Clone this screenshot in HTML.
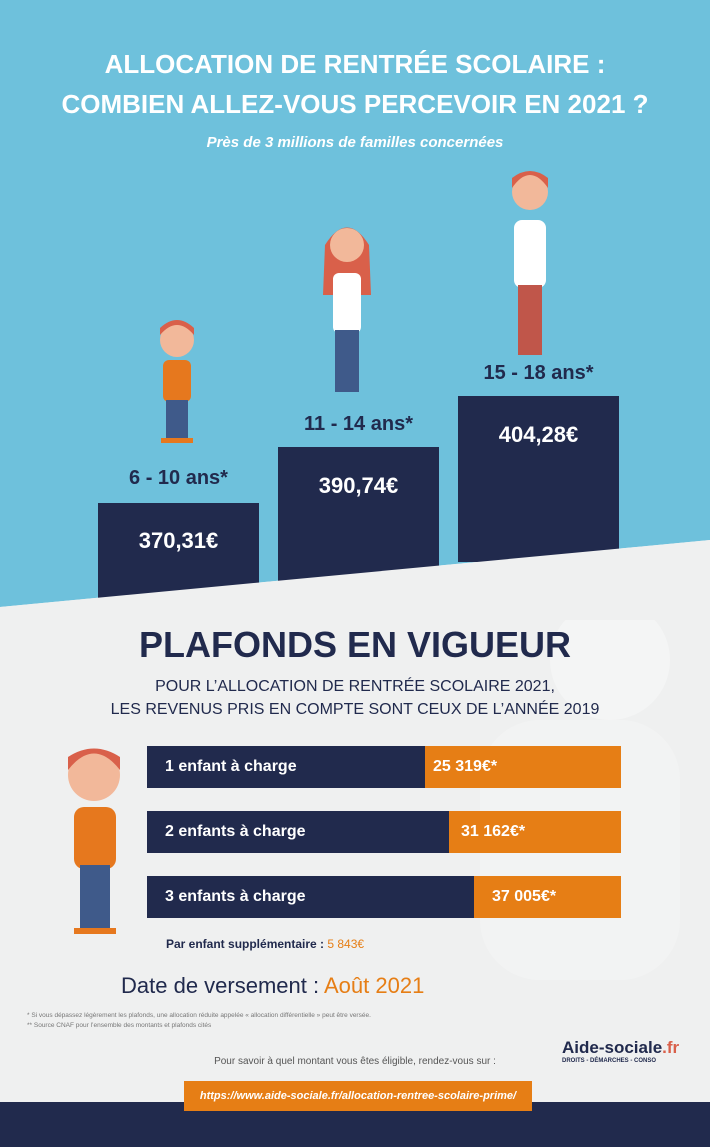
<!DOCTYPE html>
<html><head><meta charset="utf-8"><style>
body{margin:0;width:710px;height:1147px;position:relative;overflow:hidden;font-family:"Liberation Sans",sans-serif;background:#eff0f0}
.a{position:absolute}
.c{text-align:center;left:0;width:710px}
.bar{position:absolute;background:#212a4d}
.val{color:#fff;font-weight:bold;font-size:22px;text-align:center;position:absolute}
.age{color:#212a4d;font-weight:bold;font-size:20px;position:absolute;text-align:center}
.row{position:absolute;left:147px;width:474px;height:42px;background:#212a4d;color:#fff;font-size:16px;font-weight:bold}
.row span{position:absolute;top:12px}
.row .o{position:absolute;right:0;top:0;height:42px;background:#e67e15}
</style></head><body>
<svg class="a" style="left:0;top:0" width="710" height="620">
<polygon points="0,0 710,0 710,540 0,607" fill="#6ec1dc"/>
</svg>
<svg class="a" style="left:380px;top:560px" width="330" height="480" opacity="0.35">
<circle cx="230" cy="100" r="60" fill="#fff"/><rect x="100" y="160" width="200" height="260" rx="60" fill="#fafafa"/>
</svg>
<div class="a c" style="top:44px;color:#fff;font-weight:bold;font-size:26px;line-height:40px">ALLOCATION DE RENTRÉE SCOLAIRE :<br>COMBIEN ALLEZ-VOUS PERCEVOIR EN 2021 ?</div>
<div class="a c" style="top:134px;color:#fff;font-weight:bold;font-style:italic;font-size:15px">Près de 3 millions de familles concernées</div>
<svg class="a" style="left:0;top:160px" width="710" height="300">
<g transform="translate(177,160)"><circle cx="0" cy="20" r="17" fill="#f2b89a"/><path d="M-17,15 Q0,-5 17,15 L17,8 Q0,-8 -17,8Z" fill="#d9604a"/><rect x="-14" y="40" width="28" height="42" rx="6" fill="#e6781e"/><rect x="-11" y="80" width="22" height="40" fill="#3f5a8a"/><rect x="-16" y="118" width="32" height="5" fill="#e6781e"/></g>
<g transform="translate(347,65)"><path d="M-22,20 Q0,-15 22,20 L24,70 L-24,70Z" fill="#d9604a"/><circle cx="0" cy="20" r="17" fill="#f2b89a"/><rect x="-14" y="48" width="28" height="60" rx="6" fill="#fff"/><rect x="-12" y="105" width="24" height="62" fill="#3f5a8a"/></g>
<g transform="translate(530,10)"><circle cx="0" cy="22" r="18" fill="#f2b89a"/><path d="M-18,18 Q0,-8 18,18 L18,8 Q0,-6 -18,8Z" fill="#d9604a"/><rect x="-16" y="50" width="32" height="68" rx="8" fill="#fff"/><rect x="-12" y="115" width="24" height="70" fill="#c0564a"/></g>
</svg>
<div class="bar" style="left:98px;top:503px;width:161px;height:100px"></div>
<div class="bar" style="left:278px;top:447px;width:161px;height:135px"></div>
<div class="bar" style="left:458px;top:396px;width:161px;height:166px"></div>
<svg class="a" style="left:0;top:520px" width="710" height="100"><polygon points="0,87 710,20 710,100 0,100" fill="#eff0f0"/></svg>
<div class="val" style="left:98px;width:161px;top:528px">370,31€</div>
<div class="val" style="left:278px;width:161px;top:473px">390,74€</div>
<div class="val" style="left:458px;width:161px;top:422px">404,28€</div>
<div class="age" style="left:98px;width:161px;top:467px">6 - 10 ans*</div>
<div class="age" style="left:278px;width:161px;top:413px">11 - 14 ans*</div>
<div class="age" style="left:458px;width:161px;top:362px">15 - 18 ans*</div>
<div class="a c" style="top:624px;color:#212a4d;font-weight:bold;font-size:36px">PLAFONDS EN VIGUEUR</div>
<div class="a c" style="top:675px;color:#212a4d;font-size:16px;line-height:23px">POUR L’ALLOCATION DE RENTRÉE SCOLAIRE 2021,<br>LES REVENUS PRIS EN COMPTE SONT CEUX DE L’ANNÉE 2019</div>
<svg class="a" style="left:60px;top:745px" width="70" height="195">
<circle cx="34" cy="30" r="26" fill="#f2b89a"/><path d="M8,25 Q34,-8 60,25 L60,12 Q34,-5 8,12Z" fill="#d9604a"/><rect x="14" y="62" width="42" height="62" rx="10" fill="#e6781e"/><rect x="20" y="120" width="30" height="65" fill="#3f5a8a"/><rect x="14" y="183" width="42" height="6" fill="#e6781e"/></svg>
<div class="row" style="top:746px"><span style="left:18px">1 enfant à charge</span><div class="o" style="width:196px"><span style="left:8px">25 319€*</span></div></div>
<div class="row" style="top:811px"><span style="left:18px">2 enfants à charge</span><div class="o" style="width:172px"><span style="left:12px">31 162€*</span></div></div>
<div class="row" style="top:876px"><span style="left:18px">3 enfants à charge</span><div class="o" style="width:147px"><span style="left:18px">37 005€*</span></div></div>
<div class="a" style="left:166px;top:937px;font-size:12px;font-weight:bold;color:#212a4d">Par enfant supplémentaire : <span style="color:#e67e15;font-weight:normal">5 843€</span></div>
<div class="a" style="left:121px;top:973px;font-size:22px;color:#212a4d">Date de versement : <span style="color:#e67e15">Août 2021</span></div>
<div class="a" style="left:27px;top:1011px;font-size:6.5px;color:#777;line-height:10px">* Si vous dépassez légèrement les plafonds, une allocation réduite appelée « allocation différentielle » peut être versée.<br>** Source CNAF pour l’ensemble des montants et plafonds cités</div>
<div class="a" style="left:562px;top:1038px;font-size:17px;font-weight:bold;color:#212a4d">Aide-sociale<span style="color:#d9604a">.fr</span></div>
<div class="a" style="left:562px;top:1058px;font-size:6px;font-weight:bold;color:#212a4d">DROITS - DÉMARCHES - CONSO</div>
<div class="a c" style="top:1056px;font-size:10px;color:#555">Pour savoir à quel montant vous êtes éligible, rendez-vous sur :</div>
<div class="a" style="left:0;top:1102px;width:710px;height:45px;background:#212a4d"></div>
<div class="a" style="left:184px;top:1081px;width:348px;height:30px;background:#e67e15;color:#fff;font-size:11px;font-weight:bold;font-style:italic;text-align:center;line-height:30px">https://www.aide-sociale.fr/allocation-rentree-scolaire-prime/</div>
</body></html>
